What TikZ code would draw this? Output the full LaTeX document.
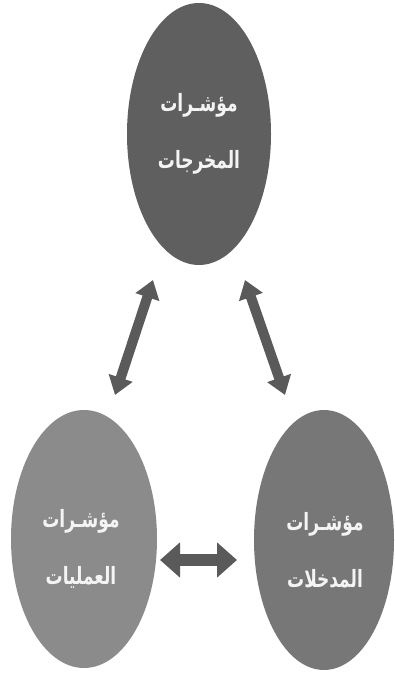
\documentclass[tikz,border=0pt]{standalone}
\usepackage{fontspec}
\usepackage{graphicx}
\TeXXeTstate=1
\newfontfamily\arabicfont[Script=Arabic]{DejaVu Sans}
\usetikzlibrary{shapes.geometric,arrows.meta,calc}
\definecolor{topgray}{HTML}{5F5F5F}
\definecolor{leftgray}{HTML}{8B8B8B}
\definecolor{rightgray}{HTML}{777777}
\definecolor{arrowgray}{HTML}{5A5A5A}
\definecolor{textwhite}{HTML}{F4F4F4}
\newcommand{\arline}[1]{\scalebox{1}[1.4]{\beginR #1\endR}}
\tikzset{
  bubble/.style={ellipse, draw=none, inner sep=0pt, minimum width=144pt, minimum height=262pt},
  bubbletext/.style={align=center, text=textwhite, inner sep=0pt,
    font=\arabicfont\bfseries\fontsize{17}{57}\selectfont},
  diagarrow/.style={draw=arrowgray, line width=10pt,
    {Triangle[width=24pt,length=18pt]}-{Triangle[width=24pt,length=18pt]}},
  horizarrow/.style={draw=arrowgray, line width=12pt,
    {Triangle[width=34pt,length=20pt]}-{Triangle[width=34pt,length=20pt]}}
}
\begin{document}
\begin{tikzpicture}[x=1pt,y=1pt]
\useasboundingbox (0,0) rectangle (394,677);
\fill[white] (0,0) rectangle (394,677);
\node[bubble, fill=topgray] (top) at (199,543) {};
\node[bubble, fill=leftgray, minimum width=146pt, minimum height=258pt] (left) at (84,138) {};
\node[bubble, fill=rightgray, minimum width=140pt, minimum height=260pt] (right) at (324,137) {};
\node[bubbletext] (toptext) at ($(top)+(0,0)$) {\arline{مؤشـرات}\\\arline{المخرجات}};
\node[bubbletext] (lefttext) at ($(left)+(-3,-10)$) {\arline{مؤشـرات}\\\arline{العمليات}};
\node[bubbletext] (righttext) at ($(right)+(1,-10)$) {\arline{مؤشـرات}\\\arline{المدخلات}};
\draw[diagarrow] ($(top)+(-46,-146)$) -- ($(left)+(31,144)$);
\draw[diagarrow] ($(top)+(46,-146)$) -- ($(right)+(-39,145)$);
\draw[horizarrow] ($(left)+(76,-21)$) -- ($(right)+(-87,-20)$);
\end{tikzpicture}
\end{document}
